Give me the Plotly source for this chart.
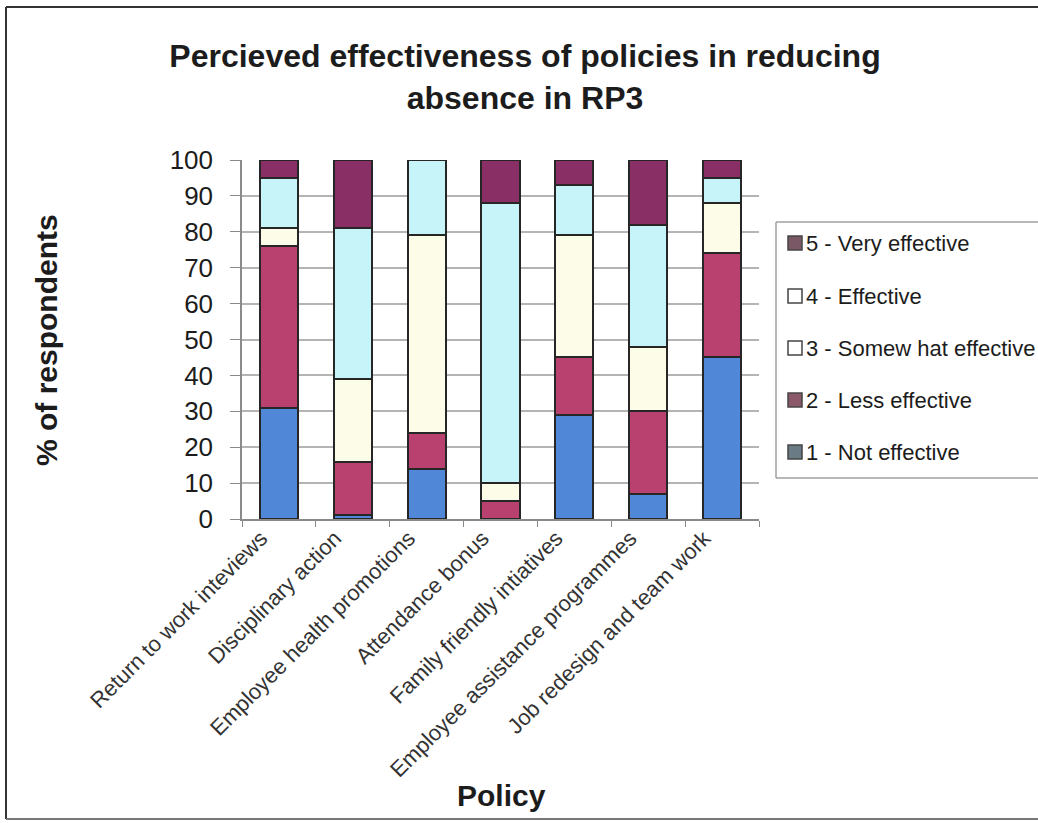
import plotly.graph_objects as go

# Policies surveyed (x categories)
policies = [
    "Return to work inteviews",
    "Disciplinary action",
    "Employee health promotions",
    "Attendance bonus",
    "Family friendly intiatives",
    "Employee assistance programmes",
    "Job redesign and team work",
]

# Share of respondents (%) for each rating
not_effective = [31, 1, 14, 0, 29, 7, 45]
less_effective = [45, 15, 10, 5, 16, 23, 29]
somewhat_effective = [5, 23, 55, 5, 34, 18, 14]
effective = [14, 42, 21, 78, 14, 34, 7]
very_effective = [5, 19, 0, 12, 7, 18, 5]

series_names = [
    "1 - Not effective",
    "2 - Less effective",
    "3 - Somew hat effective",
    "4 - Effective",
    "5 - Very effective",
]
series_values = [not_effective, less_effective, somewhat_effective, effective, very_effective]
bar_colors = ["#5087d6", "#b8416f", "#fcfce9", "#c7f4f8", "#8a2f66"]
swatch_colors = ["#6b7b86", "#8a5868", "#ffffff", "#ffffff", "#7a5865"]

y_ticks = [0, 10, 20, 30, 40, 50, 60, 70, 80, 90, 100]

W, H = 1038, 823
PL, PR, PT, PB = 242, 759, 160, 519  # plot area in pixels


def fx(px):
    return (px - PL) / (PR - PL)


def fy(py):
    return (PB - py) / (PB - PT)


FONT = "Liberation Sans, Arial, sans-serif"
TXT = "#1c1c1c"

fig = go.Figure()
for name, vals, col in zip(series_names, series_values, bar_colors):
    fig.add_trace(go.Bar(
        x=policies, y=vals, name=name,
        marker=dict(color=col, line=dict(color="#262626", width=2)),
        showlegend=False,
    ))

shapes = []
annotations = []

# outer chart frame (open on the right)
frame = dict(xref="paper", yref="paper", type="line",
             line=dict(color="#333333", width=2), layer="below")
shapes.append({**frame, "x0": fx(6), "x1": fx(6), "y0": fy(819), "y1": fy(7)})
shapes.append({**frame, "x0": fx(6), "x1": fx(W), "y0": fy(7), "y1": fy(7)})
shapes.append({**frame, "x0": fx(6), "x1": fx(W), "y0": fy(819), "y1": fy(819),
               "line": dict(color="#777777", width=2)})

# legend box (open on the right)
lbox = dict(xref="paper", yref="paper", type="line",
            line=dict(color="#a0a0a0", width=1.5), layer="below")
shapes.append({**lbox, "x0": fx(776), "x1": fx(776), "y0": fy(478), "y1": fy(222)})
shapes.append({**lbox, "x0": fx(776), "x1": fx(W), "y0": fy(222), "y1": fy(222)})
shapes.append({**lbox, "x0": fx(776), "x1": fx(W), "y0": fy(478), "y1": fy(478)})

legend_rows = [243, 296, 348, 400, 452]
for i, row_y in enumerate(legend_rows):
    k = 4 - i
    shapes.append(dict(type="rect", xref="paper", yref="paper",
                       x0=fx(788), x1=fx(802), y0=fy(row_y + 7), y1=fy(row_y - 7),
                       fillcolor=swatch_colors[k],
                       line=dict(color="#444444", width=1.5)))
    annotations.append(dict(xref="paper", yref="paper", x=fx(804), y=fy(row_y),
                            xanchor="left", yanchor="middle", showarrow=False,
                            text=series_names[k],
                            font=dict(family=FONT, size=22, color=TXT)))

# axis titles
annotations.append(dict(xref="paper", yref="paper", x=fx(46), y=fy(340),
                        xanchor="center", yanchor="middle", showarrow=False,
                        text="<b>% of respondents</b>", textangle=-90,
                        font=dict(family=FONT, size=30, color=TXT)))
annotations.append(dict(xref="paper", yref="paper", x=fx(501), y=fy(795),
                        xanchor="center", yanchor="middle", showarrow=False,
                        text="<b>Policy</b>",
                        font=dict(family=FONT, size=30, color=TXT)))

fig.update_layout(
    width=W, height=H,
    margin=dict(l=PL, r=W - PR, t=PT, b=H - PB, pad=0),
    barmode="stack",
    bargap=0.485,
    paper_bgcolor="white",
    plot_bgcolor="white",
    title=dict(
        text="<b>Percieved effectiveness of policies in reducing<br>absence in RP3</b>",
        x=525 / W, xanchor="center",
        y=1 - 67 / H, yanchor="middle",
        font=dict(family=FONT, size=32, color=TXT),
    ),
    shapes=shapes,
    annotations=annotations,
    xaxis=dict(
        tickangle=-45,
        tickfont=dict(family=FONT, size=22, color="#333333"),
        ticklabelshift=-18,
        ticklabelstandoff=-4,
        showline=True, linecolor="#8a8a8a", linewidth=1.5,
        ticks="outside", tickson="boundaries", ticklen=6, tickcolor="#8a8a8a",
        showgrid=False,
    ),
    yaxis=dict(
        range=[0, 100],
        tickvals=y_ticks,
        tickfont=dict(family=FONT, size=26, color=TXT),
        showline=True, linecolor="#8a8a8a", linewidth=1.5,
        ticks="outside", ticklen=10, tickcolor="#8a8a8a",
        ticklabelstandoff=12,
        showgrid=True, gridcolor="#b4b4b4", gridwidth=1.5,
        zeroline=False,
    ),
)

fig.write_html("out.html")
